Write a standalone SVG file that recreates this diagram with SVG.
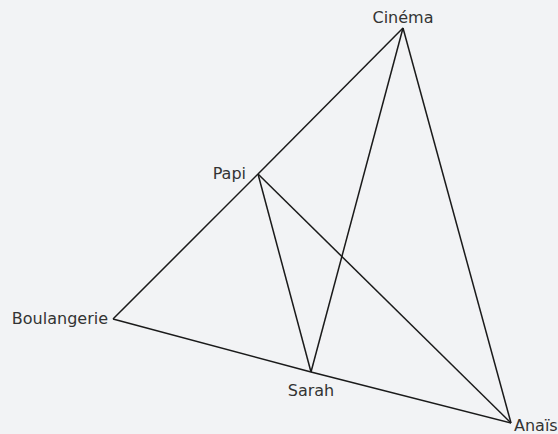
<svg xmlns="http://www.w3.org/2000/svg" width="558" height="434" viewBox="0 0 558 434">
<style>
.e{stroke:#1a1a1a;stroke-width:1.5;fill:none}
text{font-family:"DejaVu Sans",sans-serif;font-size:16px;fill:#333}
</style>
<rect width="558" height="434" fill="#f2f3f5"/>
<g id="edges">
<line class="e" x1="403" y1="28" x2="258" y2="174"/>
<line class="e" x1="258" y1="174" x2="113" y2="319"/>
<line class="e" x1="403" y1="28" x2="311" y2="372"/>
<line class="e" x1="403" y1="28" x2="511" y2="423"/>
<line class="e" x1="258" y1="174" x2="311" y2="372"/>
<line class="e" x1="258" y1="174" x2="511" y2="423"/>
<line class="e" x1="113" y1="319" x2="311" y2="372"/>
<line class="e" x1="311" y1="372" x2="511" y2="423"/>
</g>
<g id="cinema"><text x="403" y="23" text-anchor="middle">Cinéma</text></g>
<g id="papi"><text x="246" y="179" text-anchor="end">Papi</text></g>
<g id="boulangerie"><text x="108" y="324" text-anchor="end">Boulangerie</text></g>
<g id="sarah"><text x="311" y="396" text-anchor="middle">Sarah</text></g>
<g id="anais"><text x="514" y="431">Anaïs</text></g>
</svg>
